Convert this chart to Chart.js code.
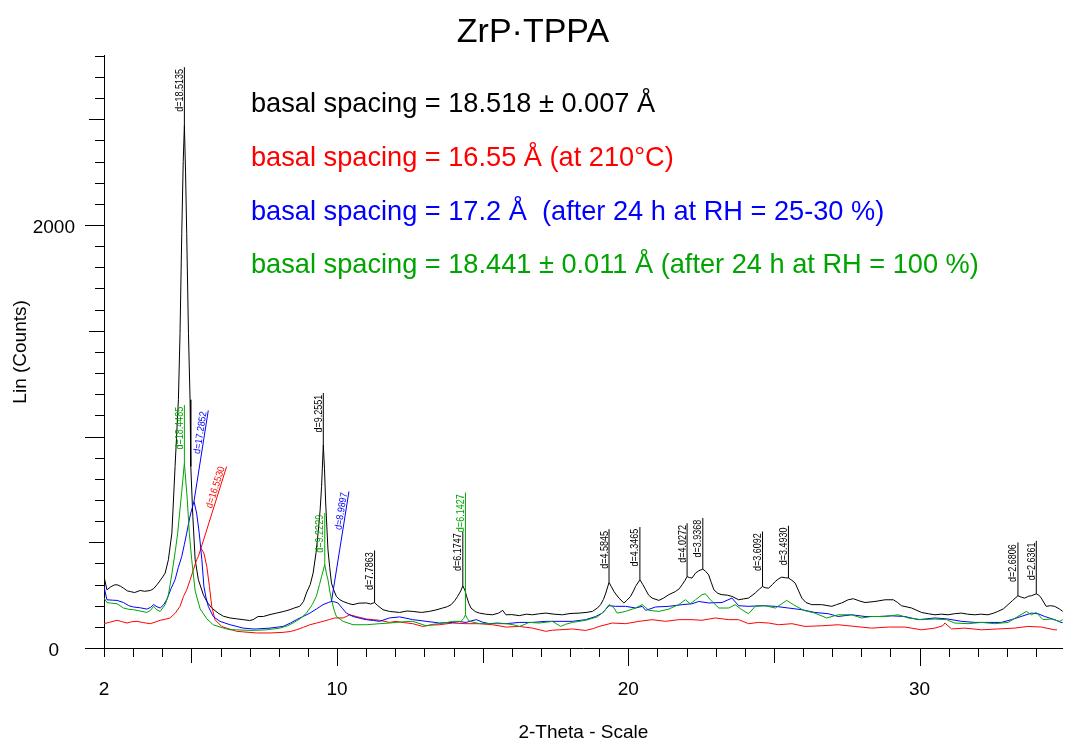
<!DOCTYPE html>
<html>
<head>
<meta charset="utf-8">
<script src="https://cdn.jsdelivr.net/npm/chart.js@4.4.1/dist/chart.umd.min.js"></script>
<style>
html,body{margin:0;padding:0;background:#fff;}
#wrap{width:1066px;height:742px;position:relative;}
</style>
</head>
<body>
<div id="wrap"><canvas id="c" width="1066" height="742"></canvas></div>
<script>
// ---------- DATA (2-Theta in degrees, intensity in counts) ----------
const blackTheta = [2.00,2.10,2.22,2.35,2.45,2.57,2.67,2.80,2.90,3.05,3.24,3.40,3.59,3.70,3.82,3.99,4.10,4.21,4.33,4.44,4.555,4.61,4.67,4.72,4.76,4.80,4.84,4.90,4.955,4.98,5.05,5.13,5.24,5.41,5.55,5.70,5.92,6.10,6.33,6.55,6.78,7.00,7.12,7.29,7.47,7.70,7.92,8.15,8.38,8.55,8.72,8.85,8.95,9.08,9.18,9.28,9.35,9.42,9.47,9.53,9.57,9.61,9.69,9.75,9.81,9.90,9.98,10.10,10.21,10.40,10.55,10.75,11.01,11.15,11.29,11.40,11.58,11.80,12.15,12.40,12.60,12.90,13.17,13.40,13.63,13.80,13.92,14.05,14.14,14.25,14.32,14.40,14.45,14.53,14.60,14.75,14.89,15.10,15.34,15.55,15.69,15.80,16.00,16.26,16.50,16.71,16.95,17.17,17.45,17.74,18.00,18.31,18.55,18.77,18.95,19.05,19.15,19.23,19.34,19.42,19.51,19.60,19.68,19.85,19.95,20.08,20.18,20.25,20.40,20.50,20.60,20.70,20.82,21.05,21.20,21.39,21.62,21.75,21.85,21.95,22.02,22.10,22.19,22.31,22.42,22.56,22.66,22.76,22.85,22.94,23.08,23.22,23.40,23.56,23.79,23.95,24.13,24.36,24.50,24.61,24.70,24.82,24.95,25.05,25.17,25.27,25.40,25.50,25.62,25.73,25.85,25.96,26.10,26.30,26.64,26.99,27.15,27.33,27.55,27.73,27.95,28.13,28.47,28.82,29.10,29.25,29.38,29.73,30.07,30.30,30.53,30.75,30.98,31.20,31.44,31.65,31.90,32.10,32.35,32.55,32.69,32.88,33.04,33.20,33.38,33.50,33.61,33.75,33.84,34.01,34.10,34.18,34.35,34.50,34.64,34.80,34.92];
const blackCounts = [338,275,288,298,299,292,283,270,267,262,272,268,272,280,299,331,354,417,543,858,1174,1488,1960,2300,2472,2250,1960,1488,1174,858,622,417,323,252,215,189,165,150,142,138,134,130,134,149,149,158,165,172,181,190,197,220,260,300,354,450,543,650,763,960,850,690,464,380,307,270,244,228,220,210,205,212,213,208,215,200,181,173,168,175,173,168,173,180,189,196,205,225,244,270,294,270,244,210,189,172,165,160,157,165,178,157,158,153,160,157,162,165,160,157,163,165,168,173,190,205,230,260,310,290,267,250,236,213,225,244,270,291,323,300,275,250,236,225,235,252,267,280,299,320,338,333,331,354,365,373,362,346,310,275,258,252,250,244,228,232,236,260,278,291,285,283,300,315,328,335,332,331,320,307,270,236,215,205,205,197,205,213,228,233,222,215,220,228,228,215,200,189,168,162,157,160,157,162,165,160,157,160,157,165,173,185,205,225,247,240,236,245,247,256,250,236,197,200,197,185,173];

const redTheta = [2.00,2.20,2.45,2.60,2.79,2.95,3.13,3.35,3.59,3.75,3.93,4.10,4.27,4.45,4.61,4.73,4.84,4.96,5.07,5.18,5.24,5.33,5.43,5.53,5.62,5.70,5.81,6.04,6.21,6.55,6.80,7.24,7.70,8.15,8.40,8.61,8.85,9.07,9.30,9.52,9.75,9.92,10.21,10.44,10.66,11.01,11.25,11.46,11.80,12.03,12.30,12.60,12.94,13.20,13.51,13.97,14.43,14.89,15.34,15.60,15.80,16.26,16.71,16.95,17.17,17.40,17.63,18.08,18.54,18.80,19.00,19.45,19.91,20.37,20.82,21.28,21.73,22.19,22.53,22.99,23.45,23.79,24.13,24.47,24.82,25.16,25.62,26.07,26.64,27.21,27.78,28.36,28.93,29.50,30.07,30.53,30.80,30.87,31.10,31.55,32.13,32.69,33.27,33.72,34.18,34.64,34.72];
const redCounts = [115,122,131,125,118,124,126,120,115,122,131,136,142,165,197,244,275,323,370,417,433,472,449,385,291,197,134,102,94,79,76,71,71,74,78,86,98,110,118,126,135,142,142,157,149,137,134,131,121,126,120,115,102,108,110,118,115,115,110,104,99,102,94,86,79,84,86,90,83,92,102,118,115,126,134,126,134,134,131,142,134,134,115,121,118,110,115,102,105,110,102,94,99,99,86,94,105,118,90,94,86,90,94,102,99,86,86];

const blueTheta = [2.00,2.10,2.30,2.45,2.67,2.85,3.01,3.25,3.47,3.60,3.70,3.82,3.93,4.05,4.16,4.30,4.44,4.55,4.67,4.76,4.84,4.92,4.98,5.09,5.18,5.27,5.36,5.43,5.50,5.58,5.75,5.98,6.33,6.78,7.12,7.24,7.70,8.15,8.40,8.61,8.85,9.07,9.30,9.52,9.70,9.81,9.92,10.03,10.20,10.32,10.55,10.80,11.01,11.25,11.46,11.80,12.15,12.40,12.60,12.85,13.06,13.30,13.51,13.97,14.20,14.43,14.60,14.78,15.00,15.23,15.50,15.80,16.26,16.71,17.17,17.63,18.08,18.54,18.88,19.11,19.34,19.57,19.91,20.25,20.48,20.60,20.94,21.39,21.85,22.19,22.42,22.76,23.22,23.56,23.79,24.13,24.59,25.05,25.50,25.96,26.41,26.87,27.21,27.67,28.13,28.59,29.04,29.50,29.96,30.53,30.98,31.44,31.90,32.35,32.81,33.15,33.49,33.84,34.07,34.30,34.64,34.86,34.92];
const blueCounts = [291,228,226,225,215,200,194,190,184,192,205,195,189,205,230,280,323,380,433,490,543,600,638,693,638,543,417,291,240,197,149,126,110,94,90,90,94,102,118,134,150,165,185,205,215,220,218,213,185,165,149,140,134,130,126,142,147,140,134,130,126,122,118,121,125,121,128,134,122,115,118,115,121,121,126,126,126,134,149,165,200,197,197,189,197,178,194,197,205,209,220,213,215,236,200,197,200,197,189,181,168,162,149,157,149,149,152,149,134,142,137,126,121,121,121,134,149,165,162,149,134,121,120];

const greenTheta = [2.00,2.10,2.25,2.45,2.55,2.67,2.85,3.01,3.20,3.47,3.60,3.70,3.82,3.93,4.10,4.21,4.33,4.45,4.53,4.67,4.76,4.86,4.93,5.01,5.13,5.30,5.53,5.75,6.10,6.33,6.55,7.01,7.30,7.58,8.04,8.30,8.49,8.75,8.95,9.15,9.29,9.40,9.47,9.58,9.64,9.69,9.75,9.81,9.90,9.98,10.21,10.55,11.01,11.46,11.80,12.03,12.30,12.60,12.85,13.06,13.30,13.51,13.75,13.97,14.26,14.35,14.41,14.47,14.55,14.89,15.34,15.80,16.05,16.26,16.45,16.60,16.94,17.20,17.40,17.68,17.85,18.08,18.54,18.94,19.17,19.34,19.42,19.51,19.62,19.91,20.25,20.48,20.71,21.05,21.39,21.73,21.96,22.13,22.31,22.53,22.65,22.82,23.11,23.45,23.67,23.90,24.13,24.36,24.70,25.05,25.27,25.44,25.67,26.02,26.41,26.81,27.21,27.67,28.01,28.36,28.82,29.27,29.61,30.07,30.53,30.93,31.21,31.67,32.13,32.58,33.04,33.38,33.67,33.84,34.01,34.24,34.52,34.81,34.92];
const greenCounts = [236,215,212,209,200,189,183,181,176,168,178,197,180,173,205,250,350,460,543,740,874,700,543,420,270,185,138,110,94,86,86,83,84,86,94,105,118,140,165,205,244,300,338,394,350,323,270,228,180,149,126,110,110,115,118,121,124,126,115,105,112,115,120,126,126,140,157,140,126,115,115,115,110,102,112,121,118,122,126,102,112,121,131,147,173,205,200,189,165,173,189,205,178,173,184,205,228,209,228,252,256,228,189,189,205,181,162,197,200,189,209,225,205,178,165,142,157,157,142,149,149,157,142,134,137,134,118,115,121,115,121,149,173,157,168,134,137,126,134];

const seriesNames  = ['black', 'red', 'blue', 'green'];
const xTickLabels  = [2, 10, 20, 30];
const yTickLabels  = [0, 2000];

// peak markers: position (2-Theta) on the named series, end of marker line (2-Theta, counts), text
const peakSeries   = ['black','green','blue','red','black','green','blue','black','black','green','black','black','black','black','black','black','black','black'];
const peakTheta    = [4.76,4.76,5.09,5.33,9.53,9.58,9.81,11.29,14.32,14.41,19.34,20.40,22.02,22.56,24.61,25.50,33.38,34.01];
const peakTopTheta = [4.76,4.76,5.58,6.21,9.53,9.58,10.41,11.29,14.32,14.41,19.34,20.40,22.02,22.56,24.61,25.50,33.38,34.01];
const peakTopCount = [2746,1149,1123,858,1206,638,740,461,551,735,562,572,590,615,551,578,499,507];
const peakText     = ['d=18.5135','d=18.4485','d=17.2852','d=16.5530','d=9.2551','d=9.2229','d=8.9897','d=7.7863','d=6.1747','d=6.1427','d=4.5845','d=4.3465','d=4.0272','d=3.9368','d=3.6092','d=3.4930','d=2.6806','d=2.6361'];

const noteText = [
  'basal spacing = 18.518 \u00b1 0.007 \u00c5',
  'basal spacing = 16.55 \u00c5 (at 210\u00b0C)',
  'basal spacing = 17.2 \u00c5  (after 24 h at RH = 25-30 %)',
  'basal spacing = 18.441 \u00b1 0.011 \u00c5 (after 24 h at RH = 100 %)'
];
const noteSeries = ['black', 'red', 'blue', 'green'];

// ---------- STYLE ----------
const COLORS = { black: '#000000', red: '#ff0000', blue: '#0000ff', green: '#00a400' };
const FONT = "'Liberation Sans', Arial, Helvetica, sans-serif";

const seriesData = {
  black: [blackTheta, blackCounts],
  red:   [redTheta, redCounts],
  blue:  [blueTheta, blueCounts],
  green: [greenTheta, greenCounts]
};

function toPoints(th, ct) { return th.map((t, i) => ({ x: t, y: ct[i] })); }
function interp(name, t) {
  const [th, ct] = seriesData[name];
  for (let i = 1; i < th.length; i++) {
    if (t <= th[i]) {
      const f = (t - th[i - 1]) / (th[i] - th[i - 1]);
      return ct[i - 1] + f * (ct[i] - ct[i - 1]);
    }
  }
  return ct[ct.length - 1];
}

// custom tick marks (minor / medium / major lengths)
const tickMarks = {
  id: 'tickMarks',
  afterDraw(chart) {
    const { ctx, scales: { x, y }, chartArea } = chart;
    ctx.save();
    ctx.strokeStyle = '#000';
    ctx.lineWidth = 1;
    ctx.beginPath();
    y.ticks.forEach(tk => {
      const v = tk.value;
      const len = v % 1000 === 0 ? 19 : (v % 500 === 0 ? 15 : 9);
      const py = Math.round(y.getPixelForValue(v)) + 0.5;
      ctx.moveTo(chartArea.left, py);
      ctx.lineTo(chartArea.left - len, py);
    });
    x.ticks.forEach(tk => {
      const v = tk.value;
      const len = v % 10 === 0 ? 18 : (v % 5 === 0 ? 15 : 9);
      const px = Math.round(x.getPixelForValue(v)) + 0.5;
      ctx.moveTo(px, chartArea.bottom);
      ctx.lineTo(px, chartArea.bottom + len);
    });
    ctx.stroke();
    ctx.restore();
  }
};

// peak d-spacing markers
const peakMarkers = {
  id: 'peakMarkers',
  afterDatasetsDraw(chart) {
    const { ctx, scales: { x, y } } = chart;
    ctx.save();
    ctx.lineWidth = 1;
    ctx.font = '10px ' + FONT;
    for (let i = 0; i < peakText.length; i++) {
      const col = COLORS[peakSeries[i]];
      const x0 = x.getPixelForValue(peakTheta[i]);
      const y0 = y.getPixelForValue(interp(peakSeries[i], peakTheta[i]));
      const x1 = x.getPixelForValue(peakTopTheta[i]);
      const y1 = y.getPixelForValue(peakTopCount[i]);
      ctx.strokeStyle = col;
      ctx.beginPath();
      ctx.moveTo(x0, y0);
      ctx.lineTo(x1, y1);
      ctx.stroke();
      const ang = Math.atan2(y1 - y0, x1 - x0);
      ctx.save();
      ctx.translate(x1, y1);
      ctx.rotate(ang);
      ctx.scale(0.9, 1);
      ctx.fillStyle = col;
      ctx.textAlign = 'right';
      ctx.textBaseline = 'alphabetic';
      ctx.fillText(peakText[i], -2, -1.5);
      ctx.restore();
    }
    ctx.restore();
  }
};

// coloured annotation text block
const notes = {
  id: 'notes',
  afterDraw(chart) {
    const { ctx, chartArea } = chart;
    const baselines = [112, 165.5, 219.5, 272.5];
    ctx.save();
    ctx.font = '27.2px ' + FONT;
    ctx.textAlign = 'left';
    ctx.textBaseline = 'alphabetic';
    noteText.forEach((t, i) => {
      ctx.fillStyle = COLORS[noteSeries[i]];
      ctx.fillText(t, chartArea.left + 147, baselines[i]);
    });
    ctx.restore();
  }
};

const datasets = seriesNames.slice().reverse().map(n => ({
  label: n,
  data: toPoints(seriesData[n][0], seriesData[n][1]),
  borderColor: COLORS[n],
  borderWidth: 1,
  pointRadius: 0,
  tension: 0,
  fill: false
}));

new Chart(document.getElementById('c'), {
  type: 'line',
  data: { datasets },
  options: {
    responsive: false,
    animation: false,
    devicePixelRatio: 1,
    layout: { padding: { left: 0, right: 0, top: 0, bottom: 0 } },
    plugins: {
      legend: { display: false },
      tooltip: { enabled: false },
      title: {
        display: true,
        text: 'ZrP\u00b7TPPA',
        color: '#000',
        font: { family: FONT, size: 34, weight: 'normal', lineHeight: 1.2 },
        padding: { top: 12, bottom: 3 }
      }
    },
    scales: {
      x: {
        type: 'linear',
        position: 'bottom',
        min: 2,
        max: 34.92,
        afterFit(s) { s.height = 94; },
        afterBuildTicks(s) {
          const t = [];
          for (let v = 2; v <= 34; v++) t.push({ value: v });
          s.ticks = t;
        },
        ticks: {
          autoSkip: false,
          maxRotation: 0,
          includeBounds: false,
          padding: 30,
          color: '#000',
          font: { family: FONT, size: 19 },
          callback: v => (xTickLabels.includes(v) ? String(v) : '')
        },
        grid: { display: false, drawTicks: false },
        border: { display: true, color: '#000', width: 1 },
        title: {
          display: true,
          text: '2-Theta - Scale',
          color: '#000',
          font: { family: FONT, size: 19, lineHeight: 1 },
          padding: { top: 0, bottom: 0 }
        }
      },
      y: {
        type: 'linear',
        position: 'left',
        min: 0,
        max: 2800,
        afterFit(s) { s.width = 104; },
        afterBuildTicks(s) {
          const t = [];
          for (let v = 0; v <= 2800; v += 100) t.push({ value: v });
          s.ticks = t;
        },
        ticks: {
          autoSkip: false,
          padding: 29,
          labelOffset: 3,
          crossAlign: 'center',
          color: '#000',
          font: { family: FONT, size: 19 },
          callback: v => (yTickLabels.includes(v) ? String(v) : '')
        },
        grid: { display: false, drawTicks: false },
        border: { display: true, color: '#000', width: 1 },
        title: {
          display: true,
          text: 'Lin (Counts)',
          color: '#000',
          font: { family: FONT, size: 19, lineHeight: 1.2 },
          padding: { top: 9, bottom: 0 }
        }
      }
    }
  },
  plugins: [tickMarks, peakMarkers, notes]
});
</script>
</body>
</html>
